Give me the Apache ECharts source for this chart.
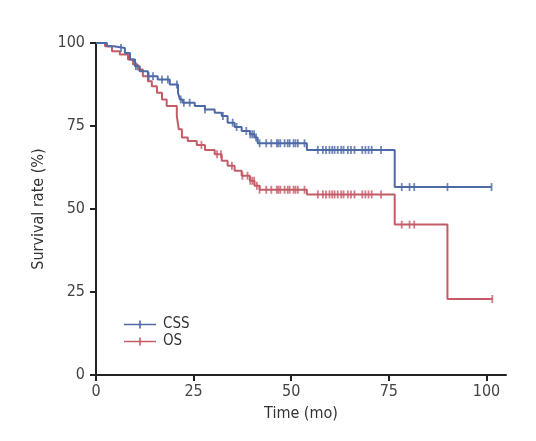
<!DOCTYPE html>
<html><head><meta charset="utf-8">
<script src="https://cdn.jsdelivr.net/npm/echarts@6/dist/echarts.min.js"></script>
<style>html,body{margin:0;padding:0;background:#fff}#c{width:536px;height:441px}</style>
</head><body><div id="c"></div>
<script>
// Kaplan-Meier step data: time (mo) at which the survival value starts
const cssTimes = [0, 2.8, 4.5, 7.4, 8.7, 10.0, 11.2, 13.3, 15.8, 18.9, 21.0, 21.5, 22.2, 25.3, 27.9, 30.4, 32.2, 33.7, 35.5, 37.3, 39.4, 40.6, 41.4, 54.0, 76.5];
const cssSurv  = [100, 99, 98.5, 97, 95, 93, 91.5, 90, 89, 87.5, 85, 83, 82, 81, 80, 79, 78, 76, 74.7, 73.5, 72.5, 71.5, 69.8, 67.8, 56.6];
const cssEnd = 101.3;
const osTimes = [0, 2.3, 4.1, 6.1, 8.2, 9.5, 10.7, 12.0, 13.3, 14.3, 15.6, 16.9, 18.1, 20.7, 21.2, 22.0, 23.5, 25.8, 27.9, 30.4, 32.2, 33.7, 35.5, 37.3, 39.4, 40.6, 41.9, 54.0, 76.5, 90.0];
const osSurv  = [100, 99, 97.5, 96.5, 95, 93.5, 92, 90, 88.5, 87, 85, 83, 81, 78, 74, 71.5, 70.5, 69.3, 67.8, 66.5, 64.5, 63, 61.5, 60, 58.5, 57, 55.8, 54.4, 45.3, 22.9];
const osEnd = 101.5;
// censored observations (times)
const cssCensor = [6.4, 10.2, 13.5, 14.6, 16.9, 18.4, 20.7, 21.7, 22.5, 24, 27.9, 32.5, 35, 36, 38.5, 39.5, 40, 40.5, 41, 41.9, 43.6, 44.9, 46.3, 46.7, 47.2, 48.3, 49.1, 49.6, 50.6, 51.1, 51.7, 53.4, 56.8, 58.1, 58.9, 59.8, 60.5, 61.1, 61.9, 62.8, 63.4, 64.5, 65.3, 66.2, 68.2, 69.0, 69.8, 70.6, 73.0, 78.3, 80.3, 81.5, 90.0, 101.3];
const osCensor = [27, 31, 32, 34.8, 37.5, 38.8, 39.5, 40, 40.5, 41.2, 41.9, 43.6, 44.9, 46.3, 46.7, 47.2, 48.3, 49.1, 49.6, 50.6, 51.1, 51.7, 53.4, 56.8, 58.1, 58.9, 59.8, 60.5, 61.1, 61.9, 62.8, 63.4, 64.5, 65.3, 66.2, 68.2, 69.0, 69.8, 70.6, 73.0, 78.3, 80.3, 81.5, 101.5];
const xTicks = [0, 25, 50, 75, 100];
const yTicks = [0, 25, 50, 75, 100];

const BLUE = '#4d69a6', RED = '#c65b68';
const FONT = "'Liberation Sans Narrow','DejaVu Sans Condensed','Roboto',sans-serif";

function stepLine(times, surv, end) {
  const d = times.map((t, i) => [t, surv[i]]);
  d.push([end, surv[surv.length - 1]]);
  return d;
}
function valueAt(times, surv, t) {
  let v = surv[0];
  for (let i = 0; i < times.length; i++) if (times[i] <= t) v = surv[i];
  return v;
}
const icon = 'path://M0,4.3H32V5.7H0Z M15.2,1H16.8V9H15.2Z';

const chart = echarts.init(document.getElementById('c'));
chart.setOption({
  animation: false,
  grid: { left: 96, right: 30, top: 43, bottom: 66 },
  legend: {
    left: 124, top: 317, orient: 'vertical', itemGap: 2, padding: 0,
    itemWidth: 32, itemHeight: 10,
    textStyle: { fontFamily: FONT, fontSize: 15, color: '#333', padding: [0, 0, 0, 2] },
    data: [{ name: 'CSS', icon: icon }, { name: 'OS', icon: icon }]
  },
  xAxis: {
    type: 'value', min: 0, max: 105, interval: 25,
    name: 'Time (mo)', nameLocation: 'middle', nameGap: 31,
    nameTextStyle: { fontFamily: FONT, fontSize: 16, color: '#333' },
    axisLine: { lineStyle: { color: '#222', width: 2 } },
    axisTick: { length: 6, lineStyle: { color: '#222', width: 2 }, customValues: xTicks },
    axisLabel: { fontFamily: FONT, fontSize: 16, color: '#444', margin: 9, customValues: xTicks },
    splitLine: { show: false }
  },
  yAxis: {
    type: 'value', min: 0, max: 100, interval: 25,
    name: 'Survival rate (%)', nameLocation: 'middle', nameGap: 43, nameRotate: 90,
    nameTextStyle: { fontFamily: FONT, fontSize: 16, color: '#333' },
    axisLine: { show: true, lineStyle: { color: '#222', width: 2 } },
    axisTick: { show: true, length: 6, lineStyle: { color: '#222', width: 2 }, customValues: yTicks },
    axisLabel: { fontFamily: FONT, fontSize: 16, color: '#444', margin: 11, customValues: yTicks },
    splitLine: { show: false }
  },
  series: [
    { name: 'CSS', type: 'line', step: 'end', showSymbol: false, data: stepLine(cssTimes, cssSurv, cssEnd),
      lineStyle: { color: BLUE, width: 2 }, itemStyle: { color: BLUE }, z: 3 },
    { name: 'OS', type: 'line', step: 'end', showSymbol: false, data: stepLine(osTimes, osSurv, osEnd),
      lineStyle: { color: RED, width: 2 }, itemStyle: { color: RED }, z: 2 },
    { name: 'CSS', type: 'scatter', symbol: 'rect', symbolSize: [1.8, 8], silent: true,
      data: cssCensor.map(t => [t, valueAt(cssTimes, cssSurv, t)]), itemStyle: { color: BLUE }, z: 4 },
    { name: 'OS', type: 'scatter', symbol: 'rect', symbolSize: [1.8, 8], silent: true,
      data: osCensor.map(t => [t, valueAt(osTimes, osSurv, t)]), itemStyle: { color: RED }, z: 4 }
  ]
});
</script></body></html>
